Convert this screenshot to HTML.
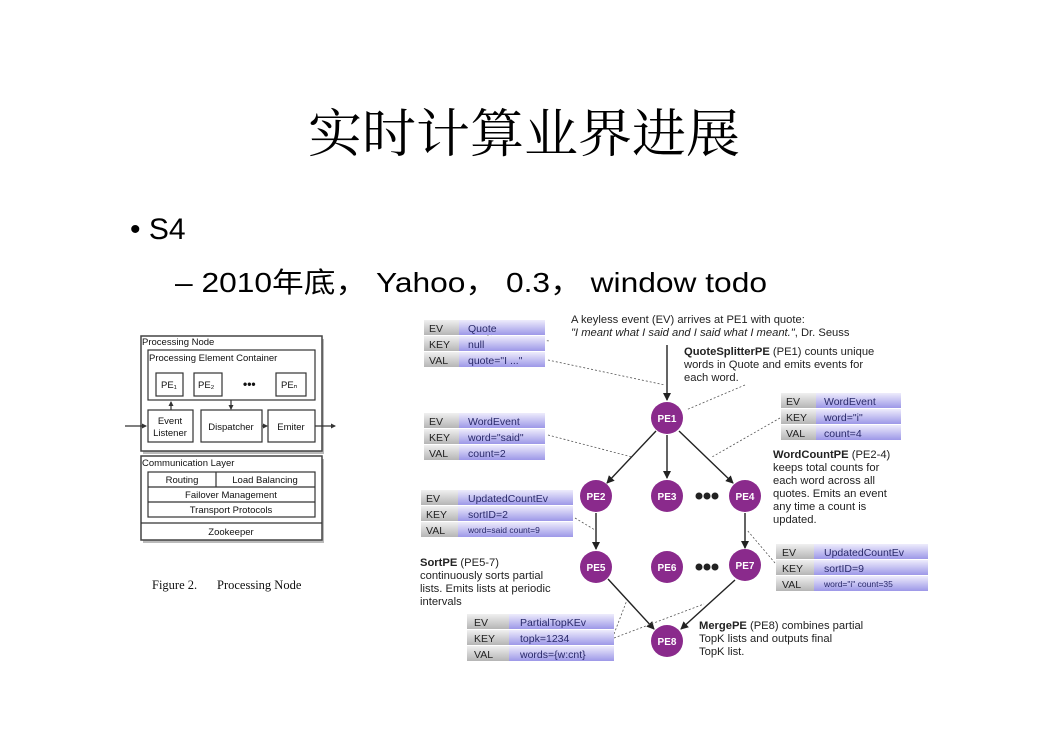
<!DOCTYPE html>
<html><head><meta charset="utf-8"><style>
html,body{margin:0;padding:0;background:#fff;}
svg{display:block}
</style></head><body>
<svg width="1052" height="744" viewBox="0 0 1052 744" xmlns="http://www.w3.org/2000/svg" font-family="'Liberation Sans','Noto Sans CJK SC',sans-serif">
<defs>
<linearGradient id="g" x1="0" y1="0" x2="0" y2="1"><stop offset="0" stop-color="#f0f0f0"/><stop offset="1" stop-color="#b5b5b5"/></linearGradient>
<linearGradient id="p" x1="0" y1="0" x2="0" y2="1"><stop offset="0" stop-color="#eeecfc"/><stop offset="1" stop-color="#9d98e8"/></linearGradient>
<marker id="a" markerWidth="8" markerHeight="8" refX="7" refY="4" orient="auto" markerUnits="userSpaceOnUse"><path d="M0,0 L8,4 L0,8 z" fill="#222"/></marker>
<marker id="s" markerWidth="5" markerHeight="5" refX="4" refY="2.5" orient="auto" markerUnits="userSpaceOnUse"><path d="M0,0 L5,2.5 L0,5 z" fill="#333"/></marker>
</defs>
<text x="308" y="152" font-size="52" textLength="432" lengthAdjust="spacingAndGlyphs" font-family="'Noto Serif CJK SC',serif" fill="#000">实时计算业界进展</text>
<text x="130" y="239" font-size="30" fill="#000">• S4</text>
<text x="175" y="292" font-size="28" textLength="592" lengthAdjust="spacingAndGlyphs" fill="#000">– 2010年底， Yahoo， 0.3， window todo</text>

<!-- left figure -->
<rect x="143" y="339" width="181" height="115" fill="#bbb"/>
<rect x="143" y="459" width="181" height="84" fill="#bbb"/>
<g stroke="#333" fill="#fff" stroke-width="1.2" font-size="9.5">
<rect x="141" y="336" width="181" height="115" fill="#fff" stroke="#444" stroke-width="1.5"/>
<rect x="148" y="350" width="167" height="50"/>
<rect x="156" y="373" width="27" height="23"/>
<rect x="194" y="373" width="28" height="23"/>
<rect x="276" y="373" width="30" height="23"/>
<rect x="148" y="410" width="45" height="32"/>
<rect x="201" y="410" width="61" height="32"/>
<rect x="268" y="410" width="47" height="32"/>
<rect x="141" y="456" width="181" height="84" stroke="#444" stroke-width="1.5"/>
<rect x="148" y="472" width="167" height="45"/>
<line x1="148" y1="487" x2="315" y2="487"/><line x1="148" y1="502" x2="315" y2="502"/>
<line x1="216" y1="472" x2="216" y2="487"/>
<line x1="141" y1="523" x2="322" y2="523"/>
<line x1="125" y1="426" x2="146" y2="426" marker-end="url(#s)"/>
<line x1="315" y1="426" x2="335" y2="426" marker-end="url(#s)"/>
<line x1="262" y1="426" x2="267" y2="426" marker-end="url(#s)"/>
<line x1="171" y1="410" x2="171" y2="402" marker-end="url(#s)"/>
<line x1="231" y1="400" x2="231" y2="409" marker-end="url(#s)"/>
</g>
<g font-size="9.5" fill="#111">
<text x="142" y="345">Processing Node</text>
<text x="149" y="361">Processing Element Container</text>
<text x="161" y="388">PE₁</text><text x="198" y="388">PE₂</text><text x="281" y="388">PEₙ</text>
<text x="243" y="388" font-size="12" font-weight="bold">•••</text>
<text x="170" y="424" text-anchor="middle">Event</text><text x="170" y="436" text-anchor="middle">Listener</text>
<text x="231" y="430" text-anchor="middle">Dispatcher</text>
<text x="291" y="430" text-anchor="middle">Emiter</text>
<text x="142" y="466">Communication Layer</text>
<text x="182" y="483" text-anchor="middle">Routing</text>
<text x="265" y="483" text-anchor="middle">Load Balancing</text>
<text x="231" y="498" text-anchor="middle">Failover Management</text>
<text x="231" y="513" text-anchor="middle">Transport Protocols</text>
<text x="231" y="535" text-anchor="middle">Zookeeper</text>
<text x="152" y="589" font-size="12.5" font-family="'Liberation Serif',serif">Figure 2.</text>
<text x="217" y="589" font-size="12.5" font-family="'Liberation Serif',serif">Processing Node</text>
</g>

<!-- arrows -->
<g stroke="#222" stroke-width="1.4" fill="none" marker-end="url(#a)">
<line x1="667" y1="345" x2="667" y2="400"/>
<line x1="656" y1="431" x2="607" y2="483"/>
<line x1="667" y1="435" x2="667" y2="478"/>
<line x1="679" y1="431" x2="733" y2="483"/>
<line x1="596" y1="513" x2="596" y2="549"/>
<line x1="745" y1="513" x2="745" y2="548"/>
<line x1="608" y1="579" x2="654" y2="629"/>
<line x1="735" y1="580" x2="681" y2="629"/>
</g>
<g stroke="#555" stroke-width="0.8" stroke-dasharray="2,2" fill="none">
<line x1="487" y1="336" x2="550" y2="341"/>
<line x1="548" y1="360" x2="665" y2="385"/>
<line x1="745" y1="385" x2="686" y2="410"/>
<line x1="780" y1="418" x2="712" y2="457"/>
<line x1="548" y1="435" x2="632" y2="457"/>
<line x1="575" y1="518" x2="595" y2="530"/>
<line x1="775" y1="563" x2="747" y2="530"/>
<line x1="614" y1="634" x2="627" y2="600"/>
<line x1="614" y1="638" x2="704" y2="604"/>
</g>

<!-- circles -->
<g fill="#8a2a8c">
<circle cx="667" cy="418" r="16"/>
<circle cx="596" cy="496" r="16"/><circle cx="667" cy="496" r="16"/><circle cx="745" cy="496" r="16"/>
<circle cx="596" cy="567" r="16"/><circle cx="667" cy="567" r="16"/><circle cx="745" cy="565" r="16"/>
<circle cx="667" cy="641" r="16"/>
<circle cx="699" cy="496" r="3.5" fill="#222"/><circle cx="707" cy="496" r="3.5" fill="#222"/><circle cx="715" cy="496" r="3.5" fill="#222"/>
<circle cx="699" cy="567" r="3.5" fill="#222"/><circle cx="707" cy="567" r="3.5" fill="#222"/><circle cx="715" cy="567" r="3.5" fill="#222"/>
</g>
<g fill="#fff" font-size="10" font-weight="bold" text-anchor="middle">
<text x="667" y="422">PE1</text>
<text x="596" y="500">PE2</text><text x="667" y="500">PE3</text><text x="745" y="500">PE4</text>
<text x="596" y="571">PE5</text><text x="667" y="571">PE6</text><text x="745" y="569">PE7</text>
<text x="667" y="645">PE8</text>
</g>

<!-- tables -->
<g font-size="10.5" fill="#222">
<rect x="424" y="320" width="35" height="15" fill="url(#g)"/><rect x="459" y="320" width="86" height="15" fill="url(#p)"/>
<rect x="424" y="336" width="35" height="15" fill="url(#g)"/><rect x="459" y="336" width="86" height="15" fill="url(#p)"/>
<rect x="424" y="352" width="35" height="15" fill="url(#g)"/><rect x="459" y="352" width="86" height="15" fill="url(#p)"/>
<text x="429" y="332">EV</text><text x="468" y="332" fill="#2a2a6a">Quote</text>
<text x="429" y="348">KEY</text><text x="468" y="348" fill="#2a2a6a">null</text>
<text x="429" y="364">VAL</text><text x="468" y="364" fill="#2a2a6a">quote="I ..."</text>
<rect x="424" y="413" width="35" height="15" fill="url(#g)"/><rect x="459" y="413" width="86" height="15" fill="url(#p)"/>
<rect x="424" y="429" width="35" height="15" fill="url(#g)"/><rect x="459" y="429" width="86" height="15" fill="url(#p)"/>
<rect x="424" y="445" width="35" height="15" fill="url(#g)"/><rect x="459" y="445" width="86" height="15" fill="url(#p)"/>
<text x="429" y="425">EV</text><text x="468" y="425" fill="#2a2a6a">WordEvent</text>
<text x="429" y="441">KEY</text><text x="468" y="441" fill="#2a2a6a">word="said"</text>
<text x="429" y="457">VAL</text><text x="468" y="457" fill="#2a2a6a">count=2</text>
<rect x="781" y="393" width="35" height="15" fill="url(#g)"/><rect x="816" y="393" width="85" height="15" fill="url(#p)"/>
<rect x="781" y="409" width="35" height="15" fill="url(#g)"/><rect x="816" y="409" width="85" height="15" fill="url(#p)"/>
<rect x="781" y="425" width="35" height="15" fill="url(#g)"/><rect x="816" y="425" width="85" height="15" fill="url(#p)"/>
<text x="786" y="405">EV</text><text x="824" y="405" fill="#2a2a6a">WordEvent</text>
<text x="786" y="421">KEY</text><text x="824" y="421" fill="#2a2a6a">word="i"</text>
<text x="786" y="437">VAL</text><text x="824" y="437" fill="#2a2a6a">count=4</text>
<rect x="421" y="490" width="37" height="15" fill="url(#g)"/><rect x="458" y="490" width="115" height="15" fill="url(#p)"/>
<rect x="421" y="506" width="37" height="15" fill="url(#g)"/><rect x="458" y="506" width="115" height="15" fill="url(#p)"/>
<rect x="421" y="522" width="37" height="15" fill="url(#g)"/><rect x="458" y="522" width="115" height="15" fill="url(#p)"/>
<text x="426" y="502">EV</text><text x="468" y="502" fill="#2a2a6a">UpdatedCountEv</text>
<text x="426" y="518">KEY</text><text x="468" y="518" fill="#2a2a6a">sortID=2</text>
<text x="426" y="534">VAL</text><text x="468" y="533" font-size="8.5" fill="#2a2a6a">word=said count=9</text>
<rect x="776" y="544" width="38" height="15" fill="url(#g)"/><rect x="814" y="544" width="114" height="15" fill="url(#p)"/>
<rect x="776" y="560" width="38" height="15" fill="url(#g)"/><rect x="814" y="560" width="114" height="15" fill="url(#p)"/>
<rect x="776" y="576" width="38" height="15" fill="url(#g)"/><rect x="814" y="576" width="114" height="15" fill="url(#p)"/>
<text x="782" y="556">EV</text><text x="824" y="556" fill="#2a2a6a">UpdatedCountEv</text>
<text x="782" y="572">KEY</text><text x="824" y="572" fill="#2a2a6a">sortID=9</text>
<text x="782" y="588">VAL</text><text x="824" y="587" font-size="8.5" fill="#2a2a6a">word="i" count=35</text>
<rect x="467" y="614" width="42" height="15" fill="url(#g)"/><rect x="509" y="614" width="105" height="15" fill="url(#p)"/>
<rect x="467" y="630" width="42" height="15" fill="url(#g)"/><rect x="509" y="630" width="105" height="15" fill="url(#p)"/>
<rect x="467" y="646" width="42" height="15" fill="url(#g)"/><rect x="509" y="646" width="105" height="15" fill="url(#p)"/>
<text x="474" y="626">EV</text><text x="520" y="626" fill="#2a2a6a">PartialTopKEv</text>
<text x="474" y="642">KEY</text><text x="520" y="642" fill="#2a2a6a">topk=1234</text>
<text x="474" y="658">VAL</text><text x="520" y="658" fill="#2a2a6a">words={w:cnt}</text>
</g>

<!-- annotations -->
<g font-size="11.2" fill="#222">
<text x="571" y="323">A keyless event (EV) arrives at PE1 with quote:</text>
<text x="571" y="336"><tspan font-style="italic">"I meant what I said and I said what I meant."</tspan>, Dr. Seuss</text>
<text x="684" y="355"><tspan font-weight="bold">QuoteSplitterPE</tspan> (PE1) counts unique</text>
<text x="684" y="368">words in Quote and emits events for</text>
<text x="684" y="381">each word.</text>
<text x="773" y="458"><tspan font-weight="bold">WordCountPE</tspan> (PE2-4)</text>
<text x="773" y="471">keeps total counts for</text>
<text x="773" y="484">each word across all</text>
<text x="773" y="497">quotes. Emits an event</text>
<text x="773" y="510">any time a count is</text>
<text x="773" y="523">updated.</text>
<text x="420" y="566"><tspan font-weight="bold">SortPE</tspan> (PE5-7)</text>
<text x="420" y="579">continuously sorts partial</text>
<text x="420" y="592">lists. Emits lists at periodic</text>
<text x="420" y="605">intervals</text>
<text x="699" y="629"><tspan font-weight="bold">MergePE</tspan> (PE8) combines partial</text>
<text x="699" y="642">TopK lists and outputs final</text>
<text x="699" y="655">TopK list.</text>
</g>
</svg>
</body></html>
